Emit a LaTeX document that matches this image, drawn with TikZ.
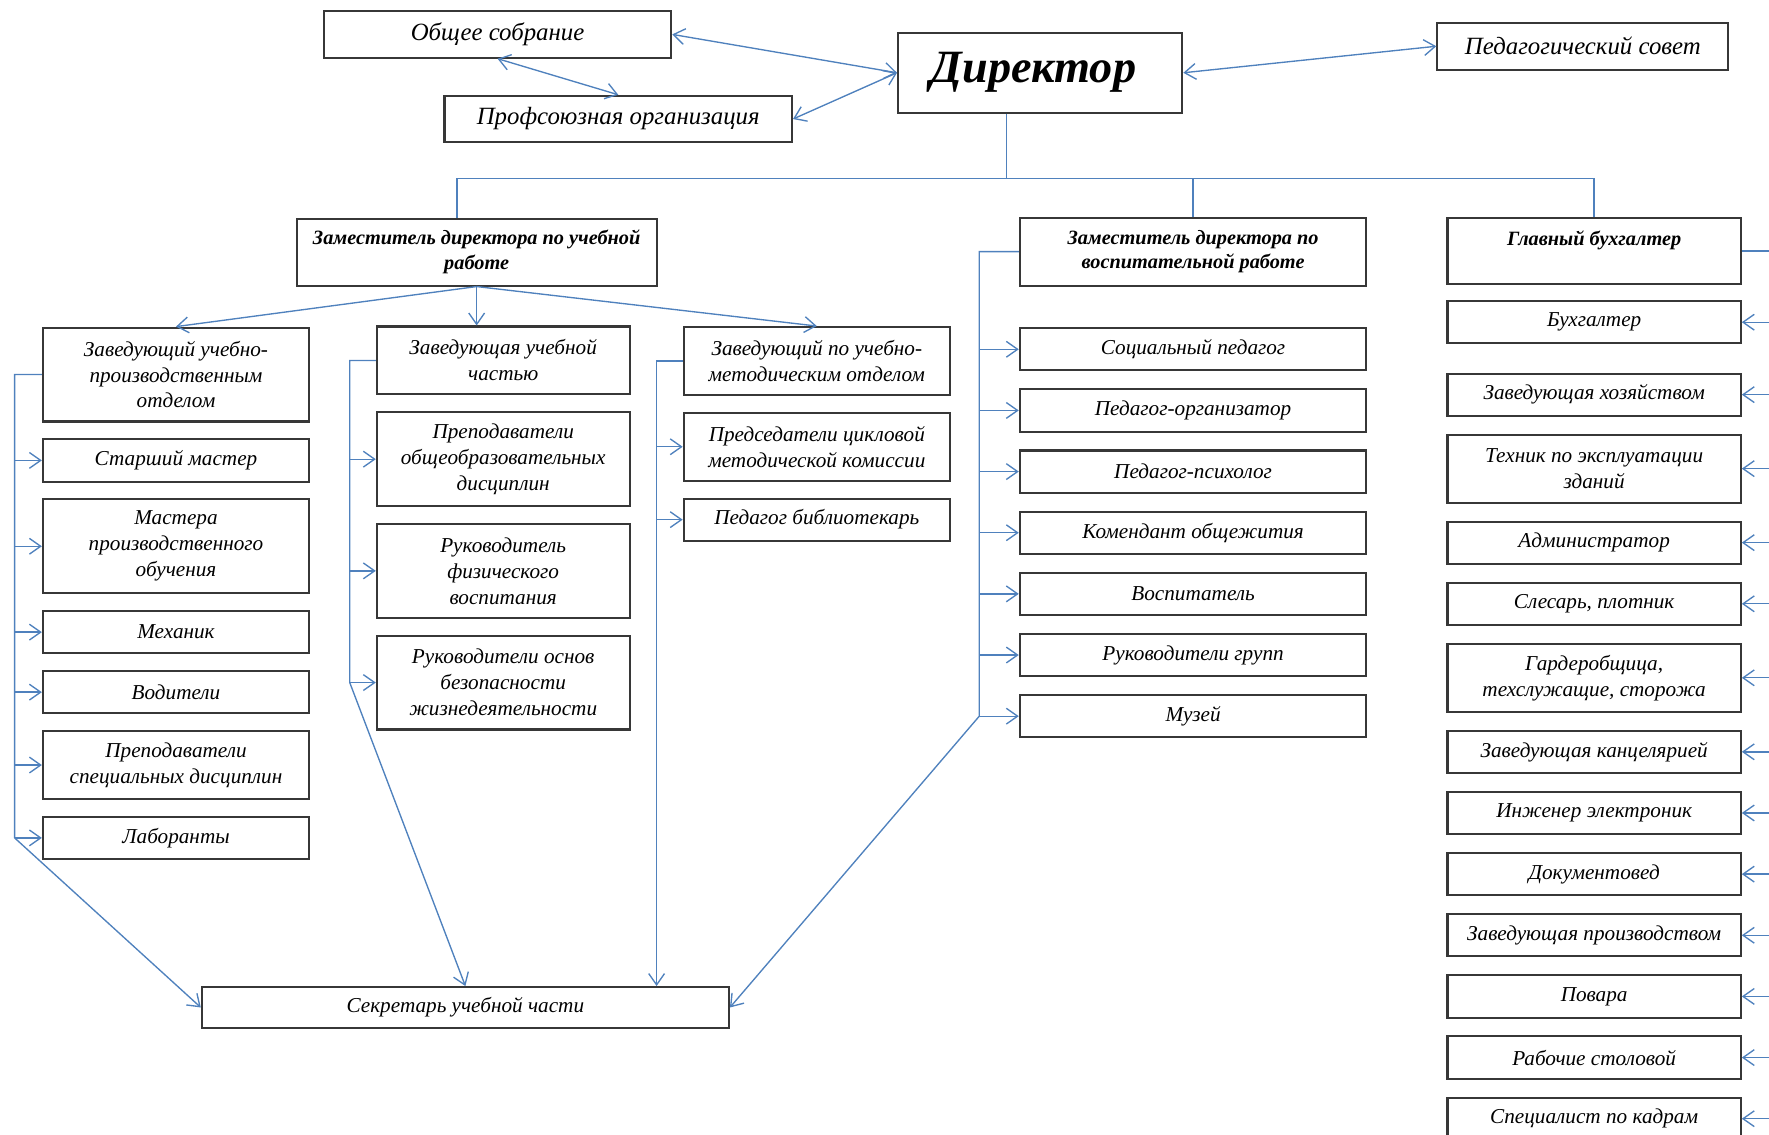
\documentclass[tikz,border=0pt]{standalone}
\usepackage{fontspec}
\setmainfont{Liberation Serif}
\usetikzlibrary{arrows.meta,positioning}

\definecolor{linkblue}{RGB}{79,129,189}
\definecolor{boxgray}{RGB}{55,55,55}

\begin{document}
\begin{tikzpicture}
    [x=0.5pt,y=-0.5pt,
    node distance=7pt,
    box/.style={draw=boxgray,line width=0.9pt,inner sep=2pt,align=center,
        font=\itshape\fontsize{9.4}{11.5}\selectfont},
    chief/.style={box,font=\bfseries\itshape\fontsize{9}{11}\selectfont},
    top/.style={box,minimum width=154pt,minimum height=20.6pt,
        font=\itshape\fontsize{11}{13}\selectfont},
    colA/.style={box,minimum width=118pt},
    colB/.style={box,minimum width=112pt},
    colC/.style={box,minimum width=118pt},
    colD/.style={box,minimum width=153.6pt},
    colE/.style={box,minimum width=130pt},
    oneline/.style={minimum height=18.7pt},
    twoline/.style={minimum height=30.1pt},
    threeline/.style={minimum height=41.6pt},
    link/.style={draw=linkblue,line width=0.6pt},
    post/.style={link,-{Straight Barb[length=5pt,width=7pt]}},
    both/.style={link,{Straight Barb[length=5pt,width=7pt]}-{Straight Barb[length=5pt,width=7pt]}}]
    \useasboundingbox (0,0) rectangle (1568,1006);

    % top level
    \node[top] (obshee) at (441,30.5) {Общее собрание};
    \node[top] (prof) at (548,105.5) {Профсоюзная организация};
    \node[box,minimum width=126pt,minimum height=35.6pt,
        font=\bfseries\itshape\fontsize{20.5}{24}\selectfont] (director) at (922,64.5) {Директор\hspace*{6pt}};
    \node[top,minimum width=129pt,minimum height=21pt] (sovet) at (1403,41) {Педагогический совет};

    % deputies
    \node[chief,minimum width=159.6pt,minimum height=29.6pt] (zamUch) at (422.5,223.5)
        {Заместитель директора по учебной\\работе};
    \node[chief,minimum width=153.6pt,minimum height=30.1pt] (zamVosp) at (1057.5,223)
        {Заместитель директора по\\воспитательной работе};
    \node[chief,minimum width=130pt,minimum height=29.6pt] (glavBuh) at (1413,222.5)
        {Главный бухгалтер\\~};

    % educational work
    \node[colA,threeline] (zavUP) at (156,332) {Заведующий учебно-\\производственным\\отделом};
    \node[colA,oneline] (master) [below=of zavUP] {Старший мастер};
    \node[colA,threeline] (mastera) [below=of master] {Мастера\\производственного\\обучения};
    \node[colA,oneline] (mechanic) [below=of mastera] {Механик};
    \node[colA,oneline] (drivers) [below=of mechanic] {Водители};
    \node[colA,twoline] (prepSpec) [below=of drivers] {Преподаватели\\специальных дисциплин};
    \node[colA,oneline] (labor) [below=of prepSpec] {Лаборанты};

    \node[colB,twoline] (zavUch) at (446,319.5) {Заведующая учебной\\частью};
    \node[colB,threeline] (prepObr) [below=of zavUch] {Преподаватели\\общеобразовательных\\дисциплин};
    \node[colB,threeline] (fizRuk) [below=of prepObr] {Руководитель\\физического\\воспитания};
    \node[colB,threeline] (obzh) [below=of fizRuk] {Руководители основ\\безопасности\\жизнедеятельности};

    \node[colC,twoline] (zavMet) at (724,320) {Заведующий по учебно-\\методическим отделом};
    \node[colC,twoline] (predCmk) [below=of zavMet] {Председатели цикловой\\методической комиссии};
    \node[colC,oneline] (biblio) [below=of predCmk] {Педагог библиотекарь};

    \node[box,minimum width=233.6pt,minimum height=18.1pt] (sekr) at (412.5,893) {Секретарь учебной части};

    \begin{scope}[node distance=7.5pt]
    % upbringing
    \node[colD,oneline] (socPed) [below=18pt of zamVosp] {Социальный педагог};
    \node[colD,oneline] (pedOrg) [below=of socPed] {Педагог-организатор};
    \node[colD,oneline] (pedPsy) [below=of pedOrg] {Педагог-психолог};
    \node[colD,oneline] (komend) [below=of pedPsy] {Комендант общежития};
    \node[colD,oneline] (vospit) [below=of komend] {Воспитатель};
    \node[colD,oneline] (rukGr) [below=of vospit] {Руководители групп};
    \node[colD,oneline] (muzei) [below=of rukGr] {Музей};

    % accounts and household
    \node[colE,oneline] (buh) [below=6.5pt of glavBuh] {Бухгалтер};
    \node[colE,oneline] (zavHoz) [below=12.5pt of buh] {Заведующая хозяйством};
    \node[colE,twoline] (tehnik) [below=of zavHoz] {Техник по эксплуатации\\зданий};
    \node[colE,oneline] (admin) [below=of tehnik] {Администратор};
    \node[colE,oneline] (slesar) [below=of admin] {Слесарь, плотник};
    \node[colE,twoline] (garderob) [below=of slesar] {Гардеробщица,\\техслужащие, сторожа};
    \node[colE,oneline] (zavKanc) [below=of garderob] {Заведующая канцелярией};
    \node[colE,oneline] (inzhener) [below=of zavKanc] {Инженер электроник};
    \node[colE,oneline] (dokum) [below=of inzhener] {Документовед};
    \node[colE,oneline] (zavProizv) [below=of dokum] {Заведующая производством};
    \node[colE,oneline] (povara) [below=of zavProizv] {Повара};
    \node[colE,oneline] (rabStol) [below=of povara] {Рабочие столовой};
    \node[colE,oneline] (kadry) [below=of rabStol] {Специалист по кадрам};
    \end{scope}

    % bus lines
    \coordinate (dirDrop) at (892,158);
    \coordinate (treeL) at (405,158);
    \coordinate (busA) at (13,0);
    \coordinate (busB) at (310,0);
    \coordinate (busC) at (582,0);
    \coordinate (busD) at (868,0);
    \coordinate (busE) at (1585,0);

    \draw[both] (obshee.east) -- (director.west);
    \draw[both] (prof.east) -- (director.west);
    \draw[both] (obshee.south) -- (prof.north);
    \draw[both] (director.east) -- (sovet.west);

    \draw[link] (director.south -| dirDrop) -- (dirDrop);
    \draw[link] (treeL |- zamUch.north) -- (treeL) -| (glavBuh.north);
    \draw[link] (treeL -| zamVosp.north) -- (zamVosp.north);

    \draw[post] (zamUch.south) -- (zavUP.north);
    \draw[post] (zamUch.south) -- (zamUch.south |- zavUch.north);
    \draw[post] (zamUch.south) -- (zavMet.north);

    \draw[post] (zavUP.west) -| (busA |- labor.west) -- (sekr.west);
    \draw[post] (busA |- master.west) -- (master.west);
    \draw[post] (busA |- mastera.west) -- (mastera.west);
    \draw[post] (busA |- mechanic.west) -- (mechanic.west);
    \draw[post] (busA |- drivers.west) -- (drivers.west);
    \draw[post] (busA |- prepSpec.west) -- (prepSpec.west);
    \draw[post] (busA |- labor.west) -- (labor.west);

    \draw[post] (zavUch.west) -| (busB |- obzh.west) -- (sekr.north);
    \draw[post] (busB |- prepObr.west) -- (prepObr.west);
    \draw[post] (busB |- fizRuk.west) -- (fizRuk.west);
    \draw[post] (busB |- obzh.west) -- (obzh.west);

    \draw[post] (zavMet.west) -| (busC |- sekr.north);
    \draw[post] (busC |- predCmk.west) -- (predCmk.west);
    \draw[post] (busC |- biblio.west) -- (biblio.west);

    \draw[post] (zamVosp.west) -| (busD |- muzei.west) -- (sekr.east);
    \draw[post] (busD |- socPed.west) -- (socPed.west);
    \draw[post] (busD |- pedOrg.west) -- (pedOrg.west);
    \draw[post] (busD |- pedPsy.west) -- (pedPsy.west);
    \draw[post] (busD |- komend.west) -- (komend.west);
    \draw[post] (busD |- vospit.west) -- (vospit.west);
    \draw[post] (busD |- rukGr.west) -- (rukGr.west);
    \draw[post] (busD |- muzei.west) -- (muzei.west);

    \draw[link] (glavBuh.east) -| (busE |- kadry.east);
    \draw[post] (busE |- buh.east) -- (buh.east);
    \draw[post] (busE |- zavHoz.east) -- (zavHoz.east);
    \draw[post] (busE |- tehnik.east) -- (tehnik.east);
    \draw[post] (busE |- admin.east) -- (admin.east);
    \draw[post] (busE |- slesar.east) -- (slesar.east);
    \draw[post] (busE |- garderob.east) -- (garderob.east);
    \draw[post] (busE |- zavKanc.east) -- (zavKanc.east);
    \draw[post] (busE |- inzhener.east) -- (inzhener.east);
    \draw[post] (busE |- dokum.east) -- (dokum.east);
    \draw[post] (busE |- zavProizv.east) -- (zavProizv.east);
    \draw[post] (busE |- povara.east) -- (povara.east);
    \draw[post] (busE |- rabStol.east) -- (rabStol.east);
    \draw[post] (busE |- kadry.east) -- (kadry.east);
\end{tikzpicture}
\end{document}
